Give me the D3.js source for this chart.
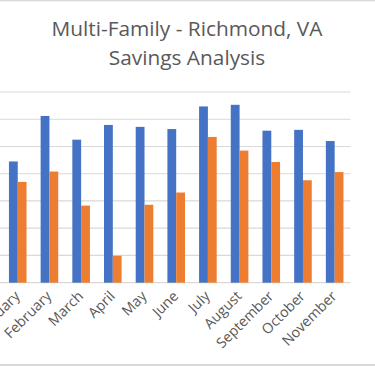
<!DOCTYPE html>
<html>
<head>
<meta charset="utf-8">
<script src="https://cdn.jsdelivr.net/npm/d3@7"></script>
<style>
  html, body { margin: 0; padding: 0; background: #fff; }
  svg { display: block; }
</style>
</head>
<body>
<script>
const months = ["January", "February", "March", "April", "May", "June",
  "July", "August", "September", "October", "November"];
const seriesA = [44.5, 61.2, 52.5, 57.9, 57.2, 56.4, 64.7, 65.3, 55.8, 56.1, 52.0];
const seriesB = [37.0, 40.8, 28.3, 9.9, 28.6, 33.1, 53.5, 48.5, 44.3, 37.6, 40.6];
const yTicks = [0, 10, 20, 30, 40, 50, 60, 70];
const titleLines = ["Multi-Family - Richmond, VA", "Savings Analysis"];

const width = 375, height = 366;
const plot = { left: 1.9, right: 350.5, top: 92, bottom: 282.7 };
const colors = ["#4472c4", "#ed7d31"];
const textColor = "#595959";
const font = "'Open Sans', 'Noto Sans', sans-serif";

const svg = d3.select("body").append("svg")
  .attr("width", width).attr("height", height);

// chart border (top and bottom visible)
svg.append("line").attr("x1", 0).attr("x2", width).attr("y1", 0.5).attr("y2", 0.5)
  .attr("stroke", "#d9d9d9").attr("stroke-width", 1.5);
svg.append("line").attr("x1", 0).attr("x2", width).attr("y1", 365).attr("y2", 365)
  .attr("stroke", "#d9d9d9").attr("stroke-width", 2);

// title
const title = svg.append("g");
titleLines.forEach((t, i) => {
  title.append("text")
    .attr("x", 187)
    .attr("y", 36 + i * 29)
    .attr("text-anchor", "middle")
    .attr("fill", textColor)
    .style("font-family", font)
    .style("font-size", "19px")
    .text(t);
});
// fit first line to measured width
const first = title.select("text").node();
const scale = 271 / first.getComputedTextLength();
title.selectAll("text").style("font-size", (19 * scale) + "px");

const x = d3.scaleBand().domain(months).range([plot.left, plot.right]).paddingInner(0).paddingOuter(0);
const x1 = d3.scaleBand().domain([0, 1]).range([-8.8, 8.8]);
const y = d3.scaleLinear().domain([0, 70]).range([plot.bottom, plot.top]);

// gridlines
svg.append("g")
  .selectAll("line")
  .data(yTicks)
  .enter()
  .append("line")
  .attr("x1", 0)
  .attr("x2", plot.right)
  .attr("y1", (d) => y(d))
  .attr("y2", (d) => y(d))
  .attr("stroke", "#d9d9d9")
  .attr("stroke-width", 1.2);

// bars
const series = [seriesA, seriesB];
series.forEach((vals, s) => {
  svg.append("g")
    .selectAll("rect")
    .data(vals)
    .enter()
    .append("rect")
    .attr("x", (d, i) => x(months[i]) + x.bandwidth() / 2 + x1(s))
    .attr("y", (d) => y(d))
    .attr("width", x1.bandwidth())
    .attr("height", (d) => y(0) - y(d))
    .attr("fill", colors[s]);
});

// month labels
svg.append("g")
  .selectAll("text")
  .data(months)
  .enter()
  .append("text")
  .attr("text-anchor", "end")
  .attr("transform", (d) => `translate(${x(d) + x.bandwidth() / 2 + 3},${297}) rotate(-45)`)
  .attr("fill", textColor)
  .style("font-family", font)
  .style("font-size", "14.3px")
  .text((d) => d);
</script>
</body>
</html>
